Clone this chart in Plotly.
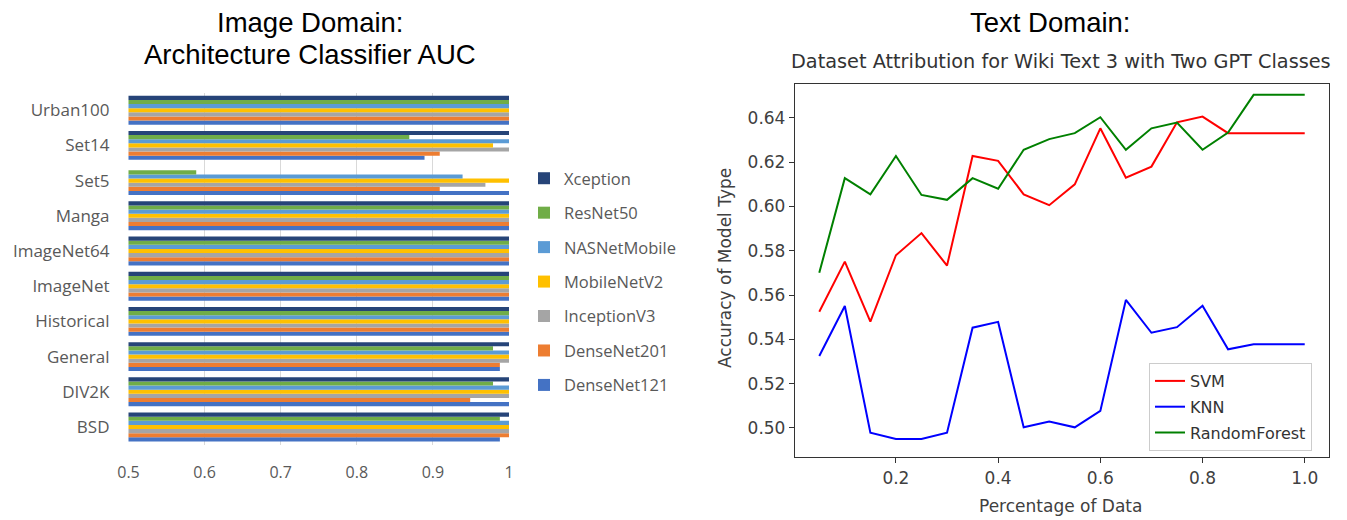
import plotly.graph_objects as go

# ---------------- Left chart data (Image domain) ----------------
datasets = ["BSD", "DIV2K", "General", "Historical", "ImageNet", "ImageNet64",
            "Manga", "Set5", "Set14", "Urban100"]  # bottom -> top
xception     = [1.0, 1.0, 1.0, 1.0, 1.0, 1.0, 1.0, 0.5, 1.0, 1.0]
resnet50     = [0.988, 0.979, 0.979, 1.0, 1.0, 1.0, 1.0, 0.589, 0.869, 1.0]
nasnetmobile = [1.0, 1.0, 1.0, 1.0, 1.0, 1.0, 1.0, 0.939, 1.0, 1.0]
mobilenetv2  = [1.0, 1.0, 1.0, 1.0, 1.0, 1.0, 1.0, 1.0, 0.979, 1.0]
inceptionv3  = [1.0, 1.0, 1.0, 1.0, 1.0, 1.0, 1.0, 0.969, 1.0, 1.0]
densenet201  = [1.0, 0.949, 0.988, 1.0, 1.0, 1.0, 1.0, 0.909, 0.909, 1.0]
densenet121  = [0.988, 1.0, 0.988, 1.0, 1.0, 1.0, 1.0, 1.0, 0.889, 1.0]
bar_ticks = [0.5, 0.6, 0.7, 0.8, 0.9, 1.0]
bar_tick_text = ["0.5", "0.6", "0.7", "0.8", "0.9", "1"]

# ---------------- Right chart data (Text domain) ----------------
pct = [0.05, 0.10, 0.15, 0.20, 0.25, 0.30, 0.35, 0.40, 0.45, 0.50,
       0.55, 0.60, 0.65, 0.70, 0.75, 0.80, 0.85, 0.90, 0.95, 1.00]
svm = [0.5525, 0.5751, 0.548, 0.578, 0.588, 0.5733, 0.6228, 0.6206, 0.6055, 0.6006,
       0.610, 0.6353, 0.613, 0.618, 0.638, 0.6406, 0.6331, 0.6331, 0.6331, 0.6331]
knn = [0.5325, 0.5551, 0.4979, 0.4950, 0.4950, 0.4979, 0.5453, 0.5479, 0.5003, 0.5029,
       0.5003, 0.5077, 0.5578, 0.543, 0.5455, 0.5552, 0.5355, 0.5378, 0.5378, 0.5378]
rf  = [0.5701, 0.6128, 0.6055, 0.6228, 0.6052, 0.603, 0.6128, 0.608, 0.6256, 0.6304,
       0.6331, 0.6403, 0.6256, 0.6353, 0.6379, 0.6256, 0.6334, 0.6504, 0.6504, 0.6504]
line_yticks = [0.50, 0.52, 0.54, 0.56, 0.58, 0.60, 0.62, 0.64]
line_xticks = [0.2, 0.4, 0.6, 0.8, 1.0]

W, H = 1347, 520
OX, OY = 8, 8  # page (body margin) offset compensation
def px(x):
    return (x - OX) / W
def py(y):
    return 1 - (y - OY) / H

fig = go.Figure()

bar_series = [
    ("DenseNet121", densenet121, "#4472C4"),
    ("DenseNet201", densenet201, "#ED7D31"),
    ("InceptionV3", inceptionv3, "#A5A5A5"),
    ("MobileNetV2", mobilenetv2, "#FFC000"),
    ("NASNetMobile", nasnetmobile, "#5B9BD5"),
    ("ResNet50", resnet50, "#70AD47"),
    ("Xception", xception, "#264478"),
]
n_bar = len(bar_series)
for i, (name, vals, col) in enumerate(bar_series):
    fig.add_trace(go.Bar(
        y=datasets, x=vals, orientation="h", name=name,
        marker=dict(color=col, line=dict(width=0)),
        xaxis="x", yaxis="y", legend="legend", legendgroup=name,
        legendrank=n_bar - i,
    ))

line_series = [("SVM", svm, "#FF0000"), ("KNN", knn, "#0000FF"),
               ("RandomForest", rf, "#008000")]
for i, (name, vals, col) in enumerate(line_series):
    fig.add_trace(go.Scatter(
        x=pct, y=vals, mode="lines", name=name,
        line=dict(color=col, width=2),
        xaxis="x2", yaxis="y2", legend="legend2", legendgroup=name,
        legendrank=100 + i,
    ))

fig.update_layout(
    width=W, height=H,
    margin=dict(l=0, r=0, t=0, b=0, autoexpand=False),
    paper_bgcolor="white", plot_bgcolor="white",
    barmode="group", bargap=0.18, bargroupgap=0,
    xaxis=dict(domain=[px(128.5), px(509)], range=[0.5, 1.0],
               tickvals=bar_ticks, ticktext=bar_tick_text,
               showgrid=True, gridcolor="#D9D9D9", gridwidth=1,
               zeroline=False, showline=False, ticks="", automargin=False,
               ticklabelstandoff=16,
               tickfont=dict(family="Open Sans", size=16, color="#595959"),
               anchor="y"),
    yaxis=dict(domain=[py(444.6), py(92.6)], type="category",
               showgrid=False, zeroline=False, showline=False, ticks="", automargin=False,
               ticklabelstandoff=18,
               tickfont=dict(family="Open Sans", size=17, color="#595959"),
               anchor="x"),
    xaxis2=dict(domain=[px(795), px(1329)], range=[0.0025, 1.0475],
                tickvals=line_xticks, ticktext=["0.2", "0.4", "0.6", "0.8", "1.0"],
                showgrid=False, zeroline=False, automargin=False,
                showline=True, linecolor="#333333", linewidth=1.3, mirror=True,
                ticks="outside", ticklen=5, tickcolor="#333333",
                tickfont=dict(family="DejaVu Sans", size=17, color="#404040"),
                anchor="y2"),
    yaxis2=dict(domain=[py(457), py(84)], range=[0.4869, 0.6553],
                tickvals=line_yticks, tickformat=".2f",
                showgrid=False, zeroline=False, automargin=False,
                showline=True, linecolor="#333333", linewidth=1.3, mirror=True,
                ticks="outside", ticklen=5, tickcolor="#333333",
                tickfont=dict(family="DejaVu Sans", size=17, color="#404040"),
                anchor="x2"),
    legend=dict(x=px(524), y=py(161), xanchor="left", yanchor="top",
                traceorder="grouped", tracegroupgap=10,
                font=dict(family="Open Sans", size=16.5, color="#595959"),
                bgcolor="rgba(0,0,0,0)", itemwidth=30),
    legend2=dict(x=px(1149), y=py(363), xanchor="left", yanchor="top",
                 traceorder="grouped", tracegroupgap=2,
                 font=dict(family="DejaVu Sans", size=16, color="#333333"),
                 bgcolor="white", bordercolor="#CCCCCC", borderwidth=1),
    showlegend=True,
)

ann = [
    dict(text="Image Domain:", x=px(310), y=py(22.5), size=27.5, family="Liberation Sans", color="black"),
    dict(text="Architecture Classifier AUC", x=px(310), y=py(54), size=27.5, family="Liberation Sans", color="black"),
    dict(text="Text Domain:", x=px(1050), y=py(22.5), size=27.5, family="Liberation Sans", color="black"),
    dict(text="Dataset Attribution for Wiki Text 3 with Two GPT Classes", x=px(1061), y=py(62),
         size=19.3, family="DejaVu Sans", color="#333333"),
    dict(text="Percentage of Data", x=px(1060), y=py(506), size=17, family="DejaVu Sans", color="#404040"),
]
for a in ann:
    fig.add_annotation(text=a["text"], x=a["x"], y=a["y"], xref="paper", yref="paper",
                       xanchor="center", yanchor="middle", showarrow=False,
                       font=dict(family=a["family"], size=a["size"], color=a["color"]))
fig.add_annotation(text="Accuracy of Model Type", x=px(725), y=py(268), xref="paper", yref="paper",
                   xanchor="center", yanchor="middle", showarrow=False, textangle=-90,
                   font=dict(family="DejaVu Sans", size=17, color="#404040"))

fig.write_html("out.html")
